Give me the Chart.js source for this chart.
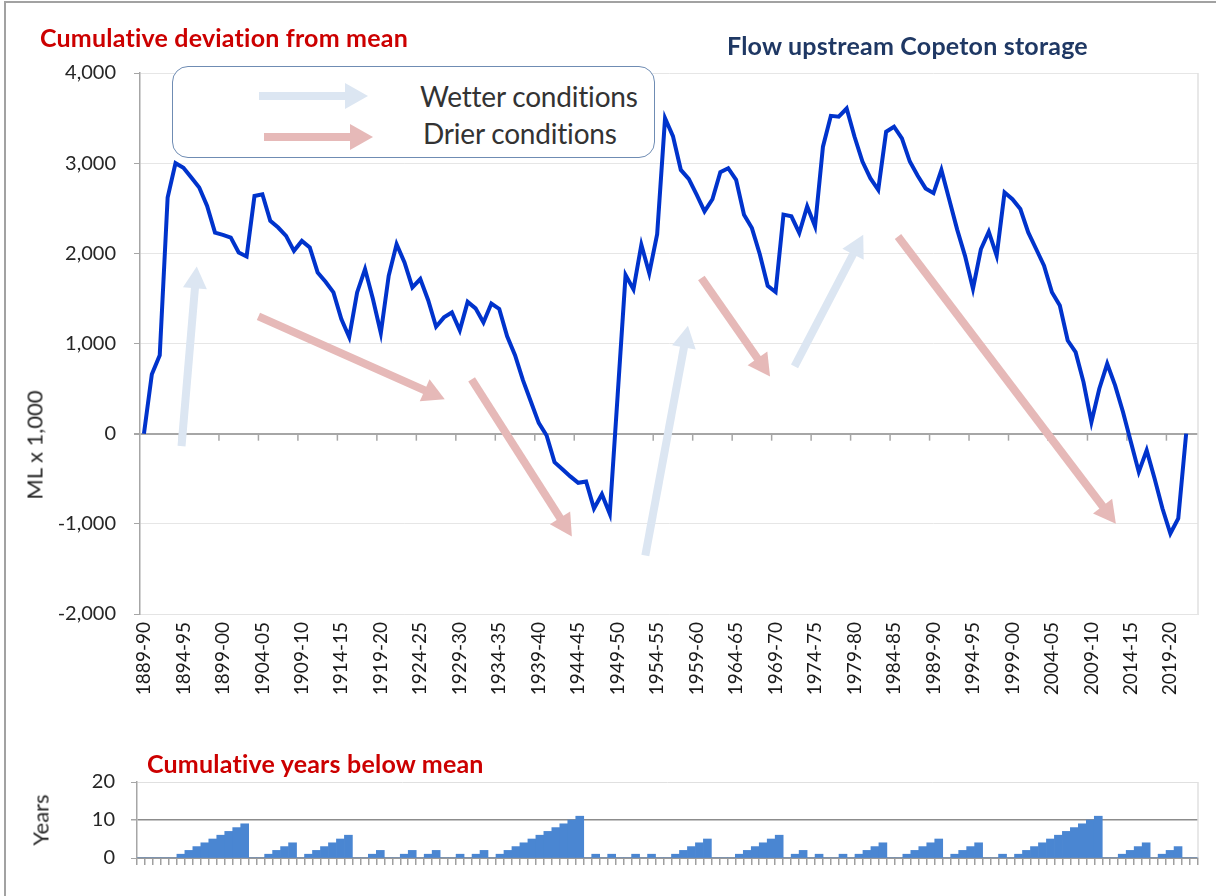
<!DOCTYPE html>
<html>
<head>
<meta charset="utf-8">
<script src="https://cdn.jsdelivr.net/npm/chart.js@4.4.1/dist/chart.umd.min.js"></script>
<style>
  body { margin: 0; background: #fff; }
  #wrap { position: relative; width: 1216px; height: 896px; overflow: hidden; font-family: Lato, "Open Sans", sans-serif; }
  #frame { position: absolute; left: 4px; top: 1px; right: -4px; bottom: -4px; border-top: 2px solid #a2a2a2; border-left: 2px solid #a2a2a2; }
  canvas { position: absolute; left: 0; }
  #topChart { top: 0; }
  #botChart { top: 740px; }
  .txt { position: absolute; white-space: nowrap; }
  .head { font-weight: bold; font-size: 25px; color: #cc0000; letter-spacing: 0.2px; }
  .rot { transform: translate(-50%, -50%) rotate(-90deg); font-size: 22px; color: #262626; }
  #keyBox { position: absolute; left: 172px; top: 66px; width: 481px; height: 90px; border: 1.5px solid #6f8cb3; border-radius: 16px; background: #fff; }
  .key { position: absolute; font-size: 28px; color: #333; letter-spacing: -0.2px; }
</style>
</head>
<body>
<div id="wrap">
  <div id="frame"></div>
  <canvas id="topChart" width="1216" height="720"></canvas>
  <canvas id="botChart" width="1216" height="150"></canvas>

  <div class="txt head" style="left:40px; top:22px;">Cumulative deviation from mean</div>
  <div class="txt head" style="left:727px; top:30px; color:#1f3864;">Flow upstream Copeton storage</div>
  <div class="txt rot" style="left:34px; top:445px;">ML x 1,000</div>
  <div class="txt head" style="left:147px; top:748px;">Cumulative years below mean</div>
  <div class="txt rot" style="left:40px; top:820px;">Years</div>

  <div id="keyBox">
    <svg width="481" height="90" style="position:absolute;left:0;top:0">
      <line x1="86" y1="29" x2="176" y2="29" stroke="#dce6f2" stroke-width="8"/>
      <polygon points="195,29 172,16 172,42" fill="#dce6f2"/>
      <line x1="91" y1="70" x2="181" y2="70" stroke="#e6b9b8" stroke-width="8"/>
      <polygon points="200,70 177,57 177,83" fill="#e6b9b8"/>
    </svg>
    <div class="key" style="left:247px; top:12px;">Wetter conditions</div>
    <div class="key" style="left:250px; top:49px;">Drier conditions</div>
  </div>
</div>

<script>
// seasons 1889-90 .. 2022-23 (axis categories)
const seasons = [];
for (let y = 1889; y <= 2022; y++) seasons.push(y + '-' + String((y + 1) % 100).padStart(2, '0'));

// cumulative deviation from mean, ML x 1,000 (1889-90 .. 2021-22)
const cumulativeDeviation = [
  0, 660, 870, 2620, 3000, 2950, 2840, 2730, 2525, 2230,
  2205, 2175, 2010, 1965, 2636, 2655, 2360, 2286, 2194, 2028,
  2138, 2065, 1788, 1685, 1567, 1272, 1070, 1567, 1825, 1493,
  1117, 1751, 2102, 1900, 1623, 1715, 1480, 1186, 1290, 1344,
  1146, 1462, 1390, 1233, 1443, 1383, 1080, 870, 593, 356,
  120, -20, -316, -395, -474, -545, -530, -830, -672, -889,
  430, 1759, 1600, 2095, 1780, 2213, 3498, 3300, 2925, 2826,
  2650, 2465, 2600, 2900, 2944, 2815, 2429, 2280, 1990, 1640,
  1571, 2429, 2410, 2226, 2521, 2300, 3183, 3525, 3515, 3606,
  3293, 3018, 2833, 2705, 3349, 3404, 3275, 3018, 2860, 2720,
  2668, 2925, 2594, 2263, 1969, 1608, 2045, 2240, 1975, 2675,
  2601, 2491, 2232, 2048, 1863, 1568, 1421, 1033, 904, 572,
  129, 498, 775, 535, 240, -92, -424, -185, -498, -830,
  -1107, -941, 0
];

// cumulative years below mean
const yearsBelowMean = [
  0, 0, 0, 0, 0, 1, 2, 3, 4, 5,
  6, 7, 8, 9, 0, 0, 1, 2, 3, 4,
  0, 1, 2, 3, 4, 5, 6, 0, 0, 1,
  2, 0, 0, 1, 2, 0, 1, 2, 0, 0,
  1, 0, 1, 2, 0, 1, 2, 3, 4, 5,
  6, 7, 8, 9, 10, 11, 0, 1, 0, 1,
  0, 0, 1, 0, 1, 0, 0, 1, 2, 3,
  4, 5, 0, 0, 0, 1, 2, 3, 4, 5,
  6, 0, 1, 2, 0, 1, 0, 0, 1, 0,
  1, 2, 3, 4, 0, 0, 1, 2, 3, 4,
  5, 0, 1, 2, 3, 4, 0, 0, 1, 0,
  1, 2, 3, 4, 5, 6, 7, 8, 9, 10,
  11, 0, 0, 1, 2, 3, 4, 0, 1, 2,
  3, 0, 0
];

const devTicks = [-2000, -1000, 0, 1000, 2000, 3000, 4000];
const yearTicks = [0, 10, 20];

const WET = '#dce6f2';
const DRY = '#e6b9b8';
// trend arrows, [season index, ML x 1,000]
const trendArrows = [
  { from: [4.76, -139], to: [6.69, 1855], color: WET },
  { from: [14.5, 1300], to: [38.1, 382], color: DRY },
  { from: [41.5, 603], to: [54.2, -1140], color: DRY },
  { from: [63.5, -1352], to: [68.9, 1197], color: WET },
  { from: [70.6, 1726], to: [79.3, 635], color: DRY },
  { from: [82.4, 746], to: [91.1, 2206], color: WET },
  { from: [95.5, 2187], to: [123.1, -998], color: DRY }
];

Chart.defaults.font.family = 'Lato, "Open Sans", sans-serif';
Chart.defaults.color = '#262626';

const plotFrame = {
  id: 'plotFrame',
  beforeDatasetsDraw(chart) {
    const { ctx, chartArea: a } = chart;
    ctx.save();
    ctx.strokeStyle = '#e0e0e0';
    ctx.lineWidth = 1.5;
    ctx.beginPath();
    ctx.moveTo(a.right, a.top);
    ctx.lineTo(a.right, a.bottom);
    ctx.stroke();
    ctx.restore();
  }
};

const zeroTicks = {
  id: 'zeroTicks',
  beforeDatasetsDraw(chart) {
    const { ctx } = chart;
    const xs = chart.scales.x, ys = chart.scales.y;
    const y0 = ys.getPixelForValue(0);
    ctx.save();
    ctx.strokeStyle = '#a6a6a6';
    ctx.lineWidth = 1.5;
    for (let i = 4.5; i < seasons.length - 1; i += 5) {
      const x = xs.getPixelForValue(i);
      ctx.beginPath();
      ctx.moveTo(x, y0);
      ctx.lineTo(x, y0 + 7);
      ctx.stroke();
    }
    // arrows
    trendArrows.forEach(a => {
      const x0 = xs.getPixelForValue(a.from[0]), y0a = ys.getPixelForValue(a.from[1]);
      const x1 = xs.getPixelForValue(a.to[0]), y1 = ys.getPixelForValue(a.to[1]);
      const ang = Math.atan2(y1 - y0a, x1 - x0);
      const head = 22, half = 12;
      const bx = x1 - head * Math.cos(ang), by = y1 - head * Math.sin(ang);
      ctx.strokeStyle = a.color;
      ctx.fillStyle = a.color;
      ctx.lineWidth = 8;
      ctx.beginPath();
      ctx.moveTo(x0, y0a);
      ctx.lineTo(bx + 2 * Math.cos(ang), by + 2 * Math.sin(ang));
      ctx.stroke();
      ctx.beginPath();
      ctx.moveTo(x1, y1);
      ctx.lineTo(bx + half * Math.sin(ang), by - half * Math.cos(ang));
      ctx.lineTo(bx - half * Math.sin(ang), by + half * Math.cos(ang));
      ctx.closePath();
      ctx.fill();
    });
    ctx.restore();
  }
};

new Chart(document.getElementById('topChart'), {
  type: 'line',
  data: {
    datasets: [{
      data: cumulativeDeviation.map((v, i) => ({ x: i, y: v })),
      borderColor: '#0033cc',
      borderWidth: 4,
      pointRadius: 0,
      tension: 0
    }]
  },
  options: {
    responsive: false,
    animation: false,
    layout: { padding: { top: 73, right: 18, left: 0, bottom: 0 } },
    plugins: { legend: { display: false }, tooltip: { enabled: false } },
    scales: {
      x: {
        type: 'linear',
        min: -0.5,
        max: seasons.length - 0.5,
        afterFit: s => { s.height = 106; },
        afterBuildTicks: s => { s.ticks = seasons.map((_, i) => ({ value: i })).filter(t => t.value % 5 === 0); },
        grid: { drawOnChartArea: false, drawTicks: false },
        border: { color: '#e4e4e4', width: 1 },
        ticks: {
          autoSkip: false,
          maxRotation: 90,
          minRotation: 90,
          padding: 8,
          font: { size: 19 },
          color: '#1a1a1a',
          callback: v => seasons[v]
        }
      },
      y: {
        min: -2000,
        max: 4000,
        afterFit: s => { s.width = 140; },
        afterBuildTicks: s => { s.ticks = devTicks.map(v => ({ value: v })); },
        grid: {
          color: c => c.tick.value === 0 ? '#a6a6a6' : '#e6e6e6',
          lineWidth: c => c.tick.value === 0 ? 2 : 1,
          tickColor: '#a6a6a6',
          tickLength: 6
        },
        border: { color: '#a6a6a6', width: 1.5 },
        ticks: {
          padding: 18,
          font: { size: 20 },
          callback: v => v.toLocaleString('en-US')
        }
      }
    }
  },
  plugins: [plotFrame, zeroTicks]
});

new Chart(document.getElementById('botChart'), {
  type: 'bar',
  data: {
    labels: seasons.slice(0, yearsBelowMean.length),
    datasets: [{
      data: yearsBelowMean,
      backgroundColor: '#4a86d2',
      borderWidth: 0,
      barPercentage: 1,
      categoryPercentage: 1
    }]
  },
  options: {
    responsive: false,
    animation: false,
    layout: { padding: { top: 42, right: 18, left: 0, bottom: 0 } },
    plugins: { legend: { display: false }, tooltip: { enabled: false } },
    scales: {
      x: {
        afterFit: s => { s.height = 32; },
        grid: { offset: true, drawOnChartArea: false, drawTicks: true, tickLength: 7, color: '#a0a0a0', lineWidth: 1.5 },
        border: { color: '#9a9a9a', width: 2 },
        ticks: { display: false, autoSkip: false }
      },
      y: {
        min: 0,
        max: 20,
        afterFit: s => { s.width = 137; },
        afterBuildTicks: s => { s.ticks = yearTicks.map(v => ({ value: v })); },
        grid: {
          color: c => c.tick.value === 10 ? '#8c8c8c' : (c.tick.value === 0 ? 'rgba(0,0,0,0)' : '#e0e0e0'),
          lineWidth: c => c.tick.value === 10 ? 1.5 : 1,
          tickColor: '#a6a6a6',
          tickLength: 6
        },
        border: { color: '#a6a6a6', width: 1.5 },
        ticks: { padding: 16, font: { size: 20 } }
      }
    }
  },
  plugins: [plotFrame]
});
</script>
</body>
</html>
